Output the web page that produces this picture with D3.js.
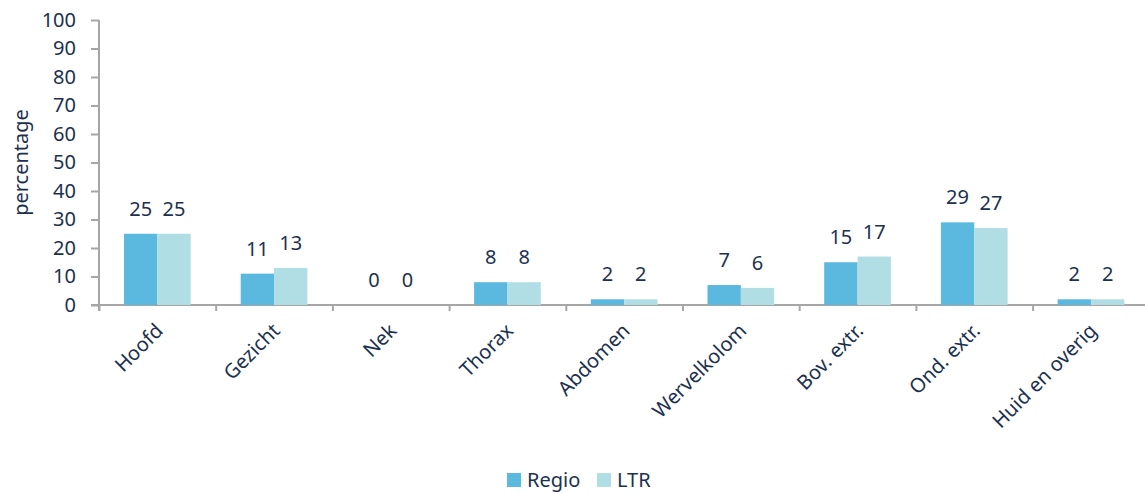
<!DOCTYPE html>
<html>
<head>
<meta charset="utf-8">
<script src="https://cdn.jsdelivr.net/npm/d3@7"></script>
<style>
  body { margin: 0; background: #fff; }
  svg text { font-family: "Noto Sans", sans-serif; fill: #1c3150; }
</style>
</head>
<body>
<div id="chart"></div>
<script>
// data
const categories = ["Hoofd", "Gezicht", "Nek", "Thorax", "Abdomen", "Wervelkolom", "Bov. extr.", "Ond. extr.", "Huid en overig"];
const seriesNames = ["Regio", "LTR"];
const regio = [25, 11, 0, 8, 2, 7, 15, 29, 2];
const ltr = [25, 13, 0, 8, 2, 6, 17, 27, 2];
const yTicks = [0, 10, 20, 30, 40, 50, 60, 70, 80, 90, 100];

const colors = {Regio: "#5bb8de", LTR: "#b0dee4"};

const width = 1145, height = 493;
const plot = {left: 99, top: 20, bottom: 305, band: 116.7};

let svg = d3.select("#chart").append("svg")
    .attr("width", width)
    .attr("height", height);

let rows = categories.map((c, i) => ({cat: c, Regio: regio[i], LTR: ltr[i]}));

let x0 = d3.scaleBand()
    .domain(categories)
    .range([plot.left, plot.left + plot.band * categories.length])
    .paddingInner(0).paddingOuter(0);

let x1 = d3.scaleBand()
    .domain(seriesNames)
    .range([25, x0.bandwidth() - 25]);

let y = d3.scaleLinear()
    .domain([0, 100])
    .range([plot.bottom, plot.top]);

// x axis ticks sit on band boundaries
let xEdge = d3.scaleLinear()
    .domain([0, categories.length])
    .range(x0.range());

let xAxis = svg.append("g")
    .attr("transform", "translate(0," + plot.bottom + ")")
    .call(d3.axisBottom(xEdge).tickValues(d3.range(0, categories.length + 1)).tickSize(6).tickSizeOuter(0).tickFormat(""));
xAxis.select(".domain").remove();
xAxis.selectAll("line").attr("stroke", "#a6a6a6").attr("stroke-width", 2);
xAxis.append("line")
    .attr("x1", plot.left - 8).attr("x2", width)
    .attr("stroke", "#a6a6a6").attr("stroke-width", 2);

let yAxis = svg.append("g")
    .attr("transform", "translate(" + plot.left + ",0)")
    .call(d3.axisLeft(y).tickValues(yTicks).tickSize(8).tickPadding(15).tickSizeOuter(0));
yAxis.select(".domain").remove();
yAxis.selectAll("line").attr("stroke", "#a6a6a6").attr("stroke-width", 2);
yAxis.selectAll("text").style("font-size", "20px").attr("fill", "#1c3150");
yAxis.append("line")
    .attr("y1", plot.top).attr("y2", plot.bottom + 6)
    .attr("stroke", "#a6a6a6").attr("stroke-width", 2);

// bars
let groups = svg.selectAll(".cat")
    .data(rows)
    .enter().append("g")
    .attr("class", "cat")
    .attr("transform", d => "translate(" + x0(d.cat) + ",0)");

groups.selectAll("rect")
    .data(d => seriesNames.map(k => ({key: k, value: d[k]})))
    .enter().append("rect")
    .attr("x", d => x1(d.key))
    .attr("width", x1.bandwidth())
    .attr("y", d => y(d.value))
    .attr("height", d => y(0) - y(d.value))
    .attr("fill", d => colors[d.key]);

groups.selectAll(".val")
    .data(d => seriesNames.map(k => ({key: k, value: d[k]})))
    .enter().append("text")
    .attr("class", "val")
    .attr("x", d => x1(d.key) + x1.bandwidth() / 2)
    .attr("y", d => y(d.value) - 18)
    .attr("text-anchor", "middle")
    .style("font-size", "20px")
    .text(d => d.value);

// category labels
svg.selectAll(".catLabel")
    .data(categories)
    .enter().append("text")
    .attr("class", "catLabel")
    .attr("text-anchor", "end")
    .attr("transform", d => "translate(" + (x0(d) + x0.bandwidth() / 2 + 2) + "," + 327 + ") rotate(-45)")
    .attr("dy", "0.35em")
    .style("font-size", "20px")
    .text(d => d);

// y title
svg.append("text")
    .attr("transform", "translate(28," + (plot.top + plot.bottom) / 2 + ") rotate(-90)")
    .attr("text-anchor", "middle")
    .style("font-size", "20px")
    .text("percentage");

// legend
let legend = svg.append("g").attr("transform", "translate(507,473)");
let legX = {Regio: 0, LTR: 90};
seriesNames.forEach(k => {
    legend.append("rect")
        .attr("x", legX[k]).attr("y", 0)
        .attr("width", 14).attr("height", 14)
        .attr("fill", colors[k]);
    legend.append("text")
        .attr("x", legX[k] + 20).attr("y", 14)
        .style("font-size", "20px")
        .text(k);
});
</script>
</body>
</html>
